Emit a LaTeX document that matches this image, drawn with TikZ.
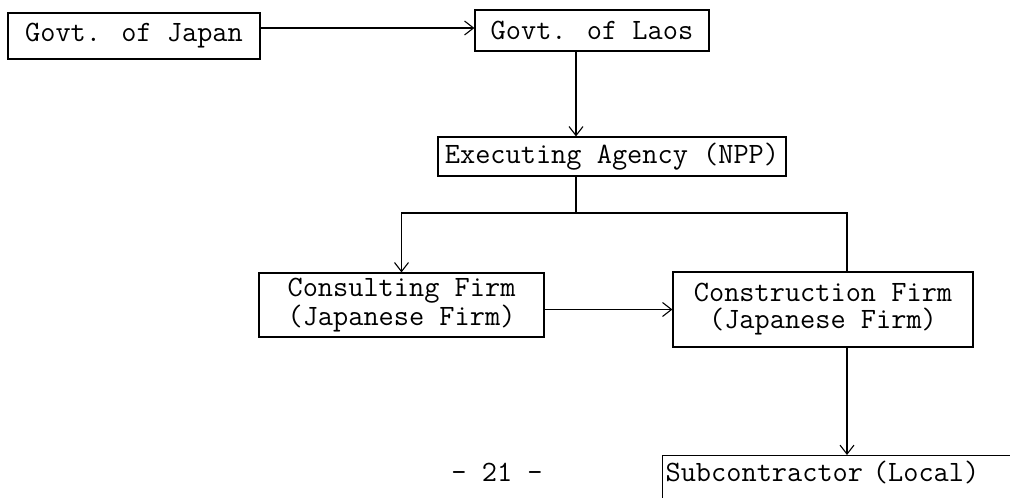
\documentclass[tikz,border=0pt]{standalone}
\usetikzlibrary{arrows.meta,calc}
\begin{document}
\begin{tikzpicture}[x=1pt,y=-1pt,
  box/.style={draw,line width=1.2pt,inner sep=0pt,align=center,
    font=\ttfamily\fontsize{29.5}{27}\selectfont},
  conn/.style={line width=1.2pt},
  arr/.style={conn,-{Straight Barb[length=9pt,width=14pt,line width=1.1pt]}},
  plain/.style={inner sep=0pt,font=\ttfamily\fontsize{29.5}{27}\selectfont}]
\useasboundingbox[fill=white] (0,0) rectangle (1010,498);
\node[box,minimum width=252pt,minimum height=46pt] (japan) at (134,36) {Govt. of Japan};
\node[box,minimum width=234pt,minimum height=41pt] (laos) at (592,30.5) {Govt. of Laos};
\node[box,minimum width=348pt,minimum height=39pt] (exec) at (612,156.5) {Executing Agency (NPP)};
\node[box,minimum width=285pt,minimum height=64pt] (consult) at (401.5,305) {Consulting Firm\\(Japanese Firm)};
\node[box,minimum width=300pt,minimum height=75pt] (construct) at (823,309.5) {Construction Firm\\(Japanese Firm)};
\node[box,anchor=north west,align=left,inner xsep=3pt,inner ysep=6pt,
  text width=380pt,text height=20pt,text depth=40pt] (sub) at (662,455) {Subcontractor (Local)};
\node[plain,anchor=base] (page) at (497,481) {- 21 -};
\coordinate (tx) at (576,0);
\coordinate (split) at (576,213);
\coordinate (rx) at (847,0);
\draw[arr] (japan.east |- 0,28) -- (laos.west |- 0,28);
\draw[arr] (laos.south -| tx) -- (exec.north -| tx);
\draw[conn] (exec.south -| tx) -- (split);
\draw[arr] (split) -| (consult.north);
\draw[conn] (split) -| (construct.north -| rx);
\draw[arr] (consult.east |- construct.west) -- (construct.west);
\draw[arr] (construct.south -| rx) -- (sub.north -| rx);
\end{tikzpicture}
\end{document}
